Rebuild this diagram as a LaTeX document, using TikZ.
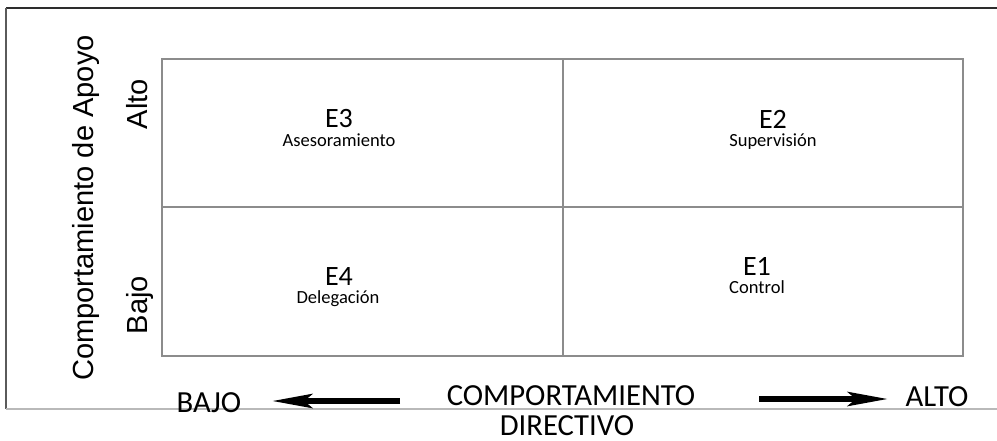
\documentclass[tikz,border=0pt]{standalone}
\usepackage{fontspec}
\setmainfont{Carlito}
\newfontfamily\arialfont{Liberation Sans}
\usetikzlibrary{arrows.meta}

\tikzset{every picture/.style={line width=0.75pt}}
\tikzset{
  gridline/.style={draw={rgb,255:red,140;green,140;blue,140}, line width=1.3pt},
  quadlbl/.style={anchor=base, inner sep=0pt, font=\fontsize{21}{21}\selectfont},
  sublbl/.style={anchor=base, inner sep=0pt, font=\fontsize{13.9}{13.9}\selectfont},
  axislbl/.style={anchor=base, inner sep=0pt, font=\fontsize{23}{23}\selectfont},
  sidelbl/.style={anchor=base, inner sep=0pt, rotate=90, font=\arialfont\fontsize{21.8}{21.8}\selectfont},
  bigarrow/.style={line width=4.5pt, -{Stealth[length=30pt, width=10.5pt, inset=6pt]}}
}

\begin{document}
\begin{tikzpicture}[x=0.75pt,y=0.75pt,yscale=-1,xscale=1]
	\useasboundingbox (0,0) rectangle (997,440);
	
	%Straight Lines [id:frame_top] 
	\draw [color={rgb,255:red,45;green,45;blue,45}, line width=1.2pt]  (6,8) -- (997,8) ;
	%Straight Lines [id:frame_left] 
	\draw [color={rgb,255:red,90;green,90;blue,90}, line width=1.2pt]  (6,8) -- (6,409) ;
	%Straight Lines [id:frame_bottom] 
	\draw [color={rgb,255:red,185;green,185;blue,185}, line width=1.2pt]  (6,409) -- (997,409) ;
	
	%Shape: Rectangle [id:grid] 
	\draw [gridline]  (162,59) rectangle (963,356) ;
	%Straight Lines [id:grid_h] 
	\draw [gridline]  (162,207) -- (963,207) ;
	%Straight Lines [id:grid_v] 
	\draw [gridline]  (563,59) -- (563,356) ;
	
	% Text Node
	\draw (339,127) node (e3) [quadlbl]    {E3};
	% Text Node
	\draw (339,146) node (e3sub) [sublbl]    {Asesoramiento};
	% Text Node
	\draw (773,128) node (e2) [quadlbl]    {E2};
	% Text Node
	\draw (773,146) node (e2sub) [sublbl]    {Supervisión};
	% Text Node
	\draw (339,285) node (e4) [quadlbl]    {E4};
	% Text Node
	\draw (338,303) node (e4sub) [sublbl]    {Delegación};
	% Text Node
	\draw (757,275) node (e1) [quadlbl]    {E1};
	% Text Node
	\draw (757,293) node (e1sub) [sublbl]    {Control};
	
	% Text Node
	\draw (93,208) node (apoyo) [sidelbl]    {Comportamiento de Apoyo};
	% Text Node
	\draw (147,104) node (alto) [sidelbl]    {Alto};
	% Text Node
	\draw (147,305) node (bajo) [sidelbl]    {Bajo};
	
	% Text Node
	\draw (571,405) node (comp) [axislbl]    {COMPORTAMIENTO};
	% Text Node
	\draw (567,435) node (dir) [axislbl]    {DIRECTIVO};
	% Text Node
	\draw (209,412) node (xbajo) [axislbl]    {BAJO};
	% Text Node
	\draw (937,406) node (xalto) [axislbl]    {ALTO};
	
	\coordinate (ltail) at (400,401);
	\coordinate (lhead) at (272,401);
	\coordinate (rtail) at (759,399);
	\coordinate (rhead) at (888,399);
	%Straight Lines [id:arrow_left] 
	\draw [bigarrow]  (ltail) -- (lhead) ;
	%Straight Lines [id:arrow_right] 
	\draw [bigarrow]  (rtail) -- (rhead) ;
	
\end{tikzpicture}
\end{document}
